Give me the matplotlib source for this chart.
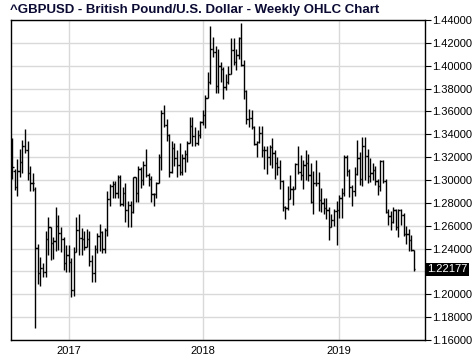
import numpy as np
import pandas as pd
import matplotlib
matplotlib.use('Agg')
import matplotlib.pyplot as plt

plt.rcParams['font.family'] = ['Liberation Sans', 'DejaVu Sans']

# weekly bars, one per monday
weeks = pd.date_range('2016-08-01', periods=157, freq='W-MON')

opens = [1.3225, 1.3080, 1.2940, 1.3075, 1.3160, 1.3300, 1.3265, 1.3060, 1.2975, 1.2918,
         1.2402, 1.2190, 1.2230, 1.2195, 1.2480, 1.2590, 1.2450, 1.2470, 1.2600, 1.2540,
         1.2480, 1.2270, 1.2340, 1.2280, 1.2040, 1.2370, 1.2560, 1.2490, 1.2485, 1.2410,
         1.2480, 1.2290, 1.2190, 1.2400, 1.2510, 1.2545, 1.2395, 1.2560, 1.2830, 1.2945,
         1.2965, 1.2890, 1.3030, 1.2790, 1.2885, 1.2740, 1.2785, 1.2720, 1.3025, 1.2885,
         1.3100, 1.3000, 1.3135, 1.3040, 1.3010, 1.2875, 1.2880, 1.2970, 1.3200, 1.3590,
         1.3480, 1.3395, 1.3070, 1.3280, 1.3190, 1.3130, 1.3070, 1.3190, 1.3230, 1.3320,
         1.3475, 1.3385, 1.3320, 1.3390, 1.3510, 1.3570, 1.3720, 1.3860, 1.4150, 1.4120,
         1.3820, 1.4000, 1.3975, 1.3815, 1.3860, 1.3930, 1.4140, 1.4030, 1.4090, 1.4240,
         1.4010, 1.3780, 1.3535, 1.3540, 1.3465, 1.3315, 1.3330, 1.3410, 1.3265, 1.3260,
         1.3205, 1.3285, 1.3235, 1.3145, 1.3110, 1.2990, 1.2765, 1.2755, 1.2830, 1.2925,
         1.2920, 1.3140, 1.3070, 1.3040, 1.3130, 1.3150, 1.3040, 1.2810, 1.2970, 1.2970,
         1.2825, 1.2795, 1.2755, 1.2740, 1.2585, 1.2650, 1.2725, 1.2740, 1.2845, 1.2885,
         1.3200, 1.3075, 1.2940, 1.2905, 1.3050, 1.3190, 1.3010, 1.3300, 1.3210, 1.3035,
         1.3060, 1.3085, 1.2990, 1.2945, 1.3165, 1.2995, 1.2720, 1.2685, 1.2630, 1.2740,
         1.2590, 1.2735, 1.2695, 1.2530, 1.2525, 1.2475, 1.2385]
highs = [1.3365, 1.3096, 1.3181, 1.3268, 1.3350, 1.3443, 1.3344, 1.3123, 1.3064, 1.2942,
         1.2440, 1.2330, 1.2271, 1.2554, 1.2673, 1.2592, 1.2498, 1.2767, 1.2694, 1.2592,
         1.2504, 1.2431, 1.2431, 1.2315, 1.2417, 1.2675, 1.2705, 1.2580, 1.2550, 1.2570,
         1.2550, 1.2340, 1.2430, 1.2540, 1.2615, 1.2550, 1.2580, 1.2905, 1.2965, 1.2990,
         1.2990, 1.3048, 1.3040, 1.2940, 1.2978, 1.2815, 1.2815, 1.3030, 1.3030, 1.3125,
         1.3115, 1.3165, 1.3267, 1.3065, 1.3035, 1.2890, 1.2980, 1.3225, 1.3615, 1.3655,
         1.3530, 1.3400, 1.3340, 1.3320, 1.3260, 1.3320, 1.3225, 1.3260, 1.3345, 1.3550,
         1.3550, 1.3460, 1.3440, 1.3520, 1.3615, 1.3745, 1.3945, 1.4345, 1.4250, 1.4170,
         1.4145, 1.4035, 1.3985, 1.3930, 1.4000, 1.4245, 1.4245, 1.4145, 1.4250, 1.4377,
         1.4050, 1.3785, 1.3620, 1.3610, 1.3470, 1.3345, 1.3470, 1.3470, 1.3300, 1.3300,
         1.3310, 1.3365, 1.3260, 1.3200, 1.3175, 1.3000, 1.2775, 1.2950, 1.3045, 1.2950,
         1.3145, 1.3300, 1.3215, 1.3175, 1.3260, 1.3225, 1.3145, 1.3075, 1.3175, 1.3070,
         1.2930, 1.2840, 1.2845, 1.2760, 1.2705, 1.2745, 1.2820, 1.2865, 1.2930, 1.3215,
         1.3220, 1.3100, 1.2960, 1.3110, 1.3350, 1.3245, 1.3380, 1.3380, 1.3270, 1.3195,
         1.3145, 1.3120, 1.3010, 1.3175, 1.3175, 1.3005, 1.2745, 1.2730, 1.2760, 1.2745,
         1.2745, 1.2750, 1.2710, 1.2600, 1.2570, 1.2520, 1.2385]
lows = [1.3010, 1.2913, 1.2863, 1.3029, 1.3064, 1.3233, 1.3000, 1.2907, 1.2907, 1.1708,
        1.2087, 1.2076, 1.2154, 1.2154, 1.2344, 1.2300, 1.2306, 1.2382, 1.2388, 1.2373,
        1.2213, 1.2198, 1.2198, 1.1979, 1.1985, 1.2370, 1.2345, 1.2345, 1.2385, 1.2410,
        1.2250, 1.2110, 1.2110, 1.2360, 1.2380, 1.2365, 1.2365, 1.2510, 1.2770, 1.2840,
        1.2845, 1.2840, 1.2775, 1.2770, 1.2635, 1.2590, 1.2589, 1.2710, 1.2810, 1.2810,
        1.2930, 1.2960, 1.3030, 1.2950, 1.2810, 1.2775, 1.2840, 1.2970, 1.3090, 1.3460,
        1.3340, 1.3030, 1.3065, 1.3120, 1.3030, 1.3040, 1.3040, 1.3070, 1.3160, 1.3320,
        1.3300, 1.3300, 1.3305, 1.3370, 1.3480, 1.3455, 1.3715, 1.3840, 1.4080, 1.3765,
        1.3765, 1.3855, 1.3710, 1.3785, 1.3840, 1.3930, 1.4010, 1.3965, 1.4060, 1.4000,
        1.3710, 1.3490, 1.3460, 1.3450, 1.3305, 1.3205, 1.3320, 1.3205, 1.3100, 1.3050,
        1.3130, 1.3105, 1.3010, 1.3040, 1.2920, 1.2725, 1.2660, 1.2740, 1.2830, 1.2785,
        1.2920, 1.3050, 1.3000, 1.2920, 1.3000, 1.2990, 1.2800, 1.2700, 1.2945, 1.2725,
        1.2720, 1.2705, 1.2660, 1.2475, 1.2585, 1.2600, 1.2430, 1.2670, 1.2670, 1.2860,
        1.3035, 1.2850, 1.2775, 1.2860, 1.3040, 1.2960, 1.2945, 1.3000, 1.2975, 1.2980,
        1.3000, 1.2955, 1.2865, 1.2905, 1.2970, 1.2710, 1.2605, 1.2560, 1.2620, 1.2565,
        1.2505, 1.2610, 1.2510, 1.2440, 1.2380, 1.2380, 1.2200]
closes = [1.3110, 1.2940, 1.3075, 1.3160, 1.3300, 1.3265, 1.3060, 1.2975, 1.2970, 1.2402,
          1.2190, 1.2230, 1.2195, 1.2480, 1.2590, 1.2450, 1.2470, 1.2600, 1.2540, 1.2480,
          1.2270, 1.2340, 1.2280, 1.2040, 1.2370, 1.2560, 1.2490, 1.2485, 1.2410, 1.2480,
          1.2290, 1.2190, 1.2400, 1.2510, 1.2545, 1.2395, 1.2560, 1.2830, 1.2945, 1.2965,
          1.2890, 1.3030, 1.2790, 1.2885, 1.2740, 1.2785, 1.2720, 1.3025, 1.2885, 1.3100,
          1.3000, 1.3135, 1.3040, 1.3010, 1.2875, 1.2880, 1.2970, 1.3200, 1.3590, 1.3480,
          1.3395, 1.3070, 1.3280, 1.3190, 1.3130, 1.3070, 1.3190, 1.3230, 1.3320, 1.3475,
          1.3385, 1.3320, 1.3390, 1.3510, 1.3570, 1.3720, 1.3860, 1.4150, 1.4120, 1.3820,
          1.4000, 1.3975, 1.3815, 1.3860, 1.3930, 1.4140, 1.4030, 1.4090, 1.4240, 1.4010,
          1.3780, 1.3535, 1.3540, 1.3465, 1.3315, 1.3330, 1.3410, 1.3265, 1.3260, 1.3205,
          1.3285, 1.3235, 1.3145, 1.3110, 1.2990, 1.2765, 1.2755, 1.2830, 1.2925, 1.2920,
          1.3140, 1.3070, 1.3040, 1.3130, 1.3150, 1.3040, 1.2810, 1.2970, 1.2970, 1.2825,
          1.2795, 1.2755, 1.2740, 1.2585, 1.2650, 1.2725, 1.2740, 1.2845, 1.2885, 1.3200,
          1.3075, 1.2940, 1.2905, 1.3050, 1.3190, 1.3010, 1.3300, 1.3210, 1.3035, 1.3060,
          1.3085, 1.2990, 1.2945, 1.3165, 1.2995, 1.2720, 1.2685, 1.2630, 1.2740, 1.2590,
          1.2735, 1.2695, 1.2530, 1.2525, 1.2475, 1.2385, 1.22177]

title = '^GBPUSD - British Pound/U.S. Dollar - Weekly OHLC Chart'
y_ticks = np.arange(1.16, 1.4401, 0.02)

fig = plt.figure(figsize=(4.74, 3.61), dpi=100)
ax = fig.add_axes([10.7 / 474, 21 / 361, 414.5 / 474, 320 / 361])

x = np.arange(len(closes))
ax.vlines(x, lows, highs, color='black', lw=1.0, zorder=3)
ax.hlines(opens, x - 0.55, x, color='black', lw=1.0, zorder=3)
ax.hlines(closes, x, x + 0.55, color='black', lw=1.0, zorder=3)

# year grid lines on the first bar of each year
year_pos = [i for i in range(1, len(weeks)) if weeks[i].year != weeks[i - 1].year]
year_lab = [str(weeks[i].year) for i in year_pos]

ax.set_xlim(-0.55, 160.4)
ax.set_ylim(1.16, 1.44)
ax.set_xticks(year_pos)
ax.set_xticklabels(year_lab)
ax.set_yticks(y_ticks)
lab = [f'{v:.5f}' for v in y_ticks]
lab[3] = ''  # hidden behind the last price box
ax.set_yticklabels(lab)
ax.yaxis.tick_right()
ax.tick_params(axis='y', length=4, width=0.8, labelsize=8, pad=1, colors='black')
ax.tick_params(axis='x', length=0, labelsize=8, pad=4)
ax.grid(True, color='#d9d9d9', lw=1.0, zorder=0)
ax.set_axisbelow(True)
for s in ax.spines.values():
    s.set_color('black')
    s.set_linewidth(1.0)

ax.text(1.004, closes[-1], f'{closes[-1]:.5f}', transform=ax.get_yaxis_transform(),
        color='white', fontsize=8, va='center', ha='left',
        bbox=dict(facecolor='black', edgecolor='none', pad=1.2))

fig.text(10 / 474, 1 - 10 / 361, title, fontsize=9.5, fontweight='bold',
         color='#0a0a33', va='center', ha='left')

fig.savefig('out.png', dpi=100)
